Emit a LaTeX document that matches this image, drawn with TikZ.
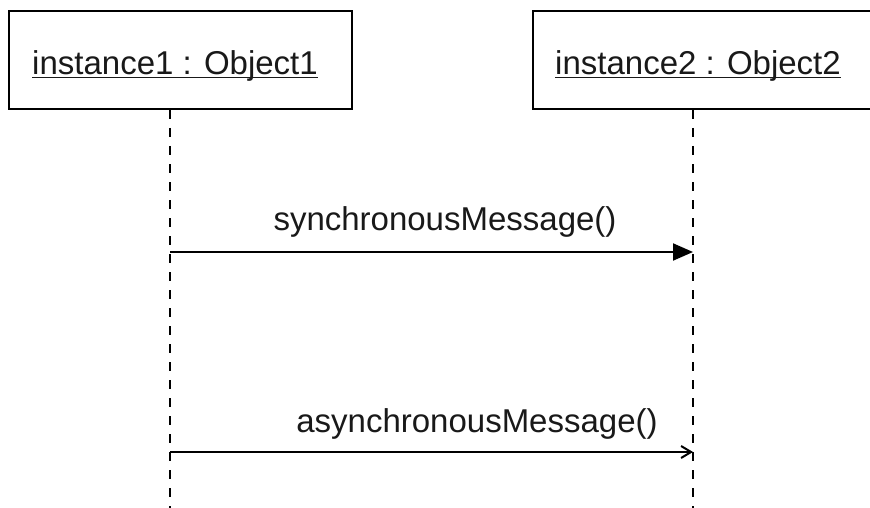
\documentclass[tikz,border=0pt]{standalone}
\usepackage{fontspec}
\setmainfont{Liberation Sans}
\usetikzlibrary{arrows.meta}
\newcommand{\myul}[1]{\setbox0\hbox{#1}\rlap{\rule[-3.5pt]{\wd0}{1.8pt}}\box0}
\begin{document}
\begin{tikzpicture}[x=1pt,y=-1pt,
  objbox/.style={draw=black, line width=2pt, inner sep=0pt, anchor=north west},
  lbl/.style={font=\fontsize{33}{40}\selectfont, text=black!90, inner sep=0pt, anchor=base},
  lifeline/.style={draw=black, line width=2pt, dash pattern=on 9pt off 9pt},
  msg/.style={draw=black, line width=2pt}
]
\useasboundingbox (0,0) rectangle (870,508);
\clip (0,0) rectangle (870,508);
\fill[white] (0,0) rectangle (870,508);
% object boxes
\node[objbox, minimum width=343pt, minimum height=98pt] (box1) at (8,10) {};
\node[objbox, minimum width=360pt, minimum height=98pt] (box2) at (532,10) {};
\node[lbl] (t1) at (175,75) {\myul{instance1 : Object1}};
\node[lbl] (t2) at (698,75) {\myul{instance2 : Object2}};
% lifeline ends
\coordinate (l1b) at (170,512);
\coordinate (l2b) at (693,512);
\draw[lifeline] (box1.south -| l1b) -- (l1b);
\draw[lifeline] (box2.south -| l2b) -- (l2b);
% message points
\coordinate (m1s) at (170,252);
\coordinate (m1e) at (693,252);
\coordinate (m2s) at (170,452);
\coordinate (m2e) at (693,452);
\draw[msg, -{Triangle[length=20pt,width=17pt]}] (m1s) -- (m1e);
\draw[msg, -{Straight Barb[length=10pt,width=12pt,line width=2pt]}] (m2s) -- (m2e);
\node[lbl] (lab1) at (445,230) {synchronousMessage()};
\node[lbl] (lab2) at (477,432) {asynchronousMessage()};
\end{tikzpicture}
\end{document}
